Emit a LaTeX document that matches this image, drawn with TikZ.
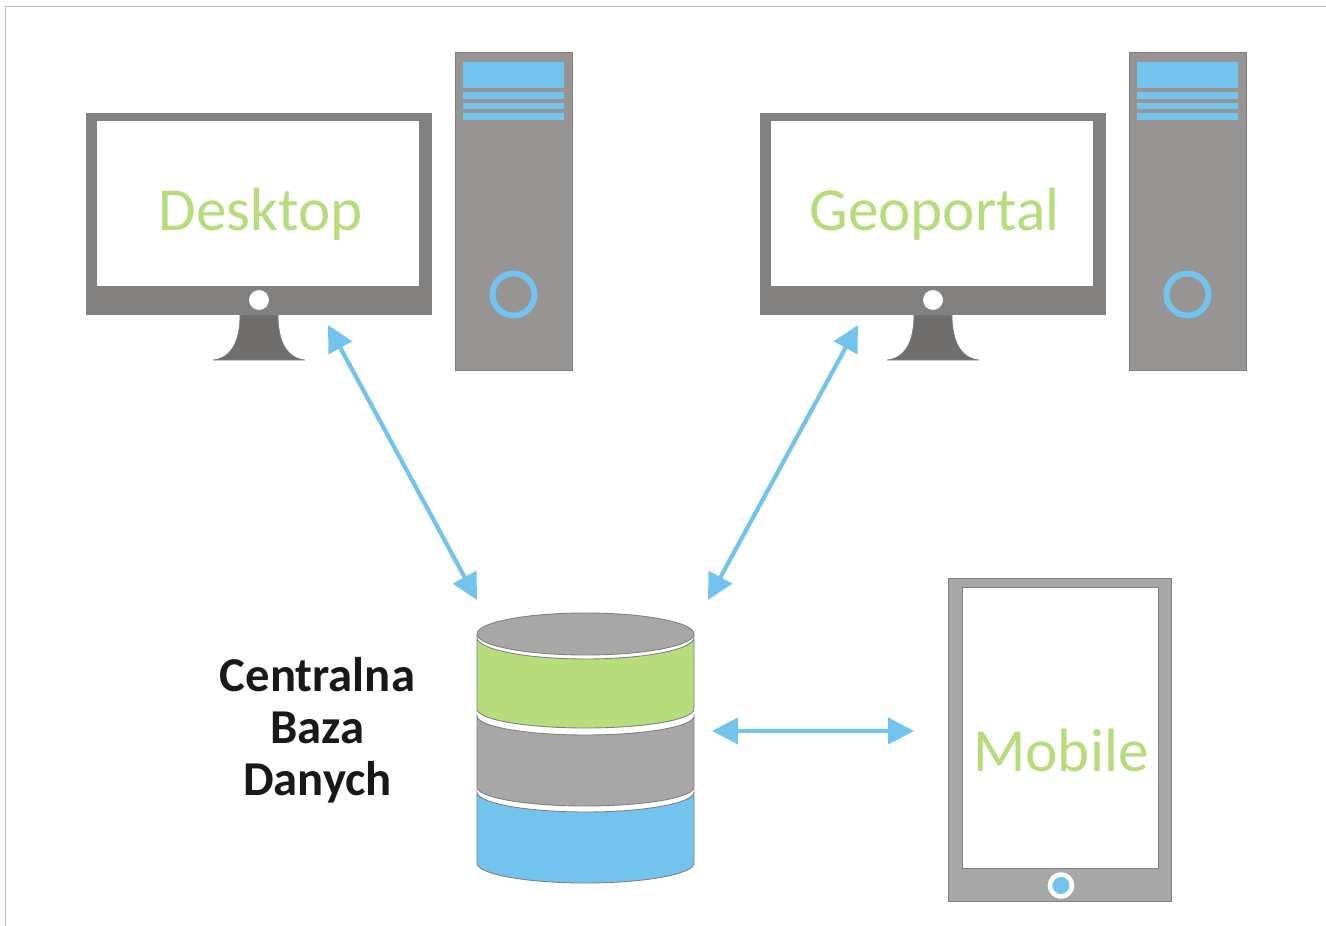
\documentclass[tikz,border=0pt]{standalone}
\usepackage{fontspec}
\setmainfont{Carlito}
\usetikzlibrary{arrows.meta}
\definecolor{skyblue}{HTML}{73C3EF}
\definecolor{leafgreen}{HTML}{B7DC7B}
\definecolor{darkframe}{HTML}{82817F}
\definecolor{towergray}{HTML}{969594}
\definecolor{standgray}{HTML}{6F6E6C}
\definecolor{lightframe}{HTML}{A7A7A7}

\begin{document}
\begin{tikzpicture}[
    x=0.02cm, y=-0.02cm,
    panel/.style={rectangle, draw=gray, line width=0.5pt, inner sep=0pt},
    monitor/.style={panel, draw=darkframe, fill=darkframe, minimum width=6.9cm, minimum height=4.02cm},
    screen/.style={panel, fill=white, minimum width=6.46cm, minimum height=3.32cm},
    tower/.style={panel, fill=towergray, minimum width=2.34cm, minimum height=6.36cm},
    bay/.style={rectangle, fill=skyblue, inner sep=0pt, minimum width=2.02cm},
    power/.style={circle, draw=skyblue, line width=3.4pt, minimum size=0.84cm, inner sep=0pt},
    knob/.style={circle, draw=gray, fill=white, line width=0.5pt, minimum size=0.42cm, inner sep=0pt},
    stand/.style={draw=gray, fill=standgray, line width=0.4pt},
    disk/.style={draw=gray, line width=0.5pt},
    device/.style={anchor=base, text=leafgreen, font=\fontsize{34.8pt}{36pt}\selectfont},
    link/.style={draw=skyblue, line width=2.4pt, {Triangle[length=0.52cm, width=0.52cm]}-{Triangle[length=0.52cm, width=0.52cm]}}
]

\useasboundingbox (0,0) rectangle (1326,926);

% Page edges
\draw[draw=black!25, line width=0.8pt] (1326,6.5) -- (5.5,6.5) -- (5.5,926);

% Left workstation
\draw[stand] (240,315) .. controls (240,340) and (232,358) .. (213,360) -- (305,360) .. controls (286,358) and (278,340) .. (278,315) -- cycle;
\node[monitor] (monA) at (259,214) {};
\node[screen] (scrA) at (258,203.3) {};
\node[knob] (knobA) at (259,300) {};
\node[device] (txtA) at (260.5,230.5) {Desktop};
\node[tower] (towA) at (513.7,211.3) {};
\node[bay, minimum height=0.52cm] (bayA) at (513.5,75) {};
\node[bay, minimum height=0.13cm] (slotAa) at (513.5,95.5) {};
\node[bay, minimum height=0.13cm] (slotAb) at (513.5,106) {};
\node[bay, minimum height=0.13cm] (slotAc) at (513.5,116.5) {};
\node[power] (powA) at (513.5,294.5) {};

% Right workstation
\draw[stand] (914,315) .. controls (914,340) and (906,358) .. (887,360) -- (979,360) .. controls (960,358) and (952,340) .. (952,315) -- cycle;
\node[monitor] (monB) at (933,214) {};
\node[screen] (scrB) at (932,203.3) {};
\node[knob] (knobB) at (933,300) {};
\node[device] (txtB) at (934.5,230.5) {Geoportal};
\node[tower] (towB) at (1187.7,211.3) {};
\node[bay, minimum height=0.52cm] (bayB) at (1187.5,75) {};
\node[bay, minimum height=0.13cm] (slotBa) at (1187.5,95.5) {};
\node[bay, minimum height=0.13cm] (slotBb) at (1187.5,106) {};
\node[bay, minimum height=0.13cm] (slotBc) at (1187.5,116.5) {};
\node[power] (powB) at (1187.5,294.5) {};

% Tablet
\node[panel, fill=lightframe, minimum width=4.46cm, minimum height=6.46cm] (tablet) at (1059.5,739.5) {};
\node[screen, minimum width=3.92cm, minimum height=5.62cm] (scrC) at (1060,727.5) {};
\node[circle, draw=white, fill=skyblue, line width=2.6pt, minimum size=0.44cm, inner sep=0pt] (knobC) at (1061,885.5) {};
\node[device] (txtC) at (1061,771.5) {Mobile};

% Database stack
\draw[disk, fill=skyblue] (477,792) arc[start angle=180, end angle=0, x radius=108.5, y radius=20] -- (694,863) arc[start angle=0, end angle=180, x radius=108.5, y radius=20] -- cycle;
\draw[disk, fill=lightframe] (477,716) arc[start angle=180, end angle=0, x radius=108.5, y radius=19] -- (694,787) arc[start angle=0, end angle=180, x radius=108.5, y radius=19] -- cycle;
\draw[disk, fill=leafgreen] (477,637.5) arc[start angle=180, end angle=0, x radius=108.5, y radius=21.5] -- (694,709) arc[start angle=0, end angle=180, x radius=108.5, y radius=19] -- cycle;
\draw[disk, fill=lightframe] (585.5,634) ellipse[x radius=108.5, y radius=21];
\coordinate (db) at (585.5,634);
\node[align=center, font=\fontsize{27.7pt}{29.6pt}\selectfont\bfseries, text=black!90] (dbLabel) at (317.5,730) {Centralna\\Baza\\Danych};

% Free ends of the links
\coordinate (deskEnd) at (328,325);
\coordinate (dbLeft) at (477,600);
\coordinate (geoEnd) at (858,325);
\coordinate (dbRight) at (708,600);
\coordinate (dbSide) at (712,731);
\coordinate (mobEnd) at (914,731);

% Draw links
\draw[link] (deskEnd) -- (dbLeft);
\draw[link] (geoEnd) -- (dbRight);
\draw[link] (dbSide) -- (mobEnd);

\end{tikzpicture}
\end{document}
